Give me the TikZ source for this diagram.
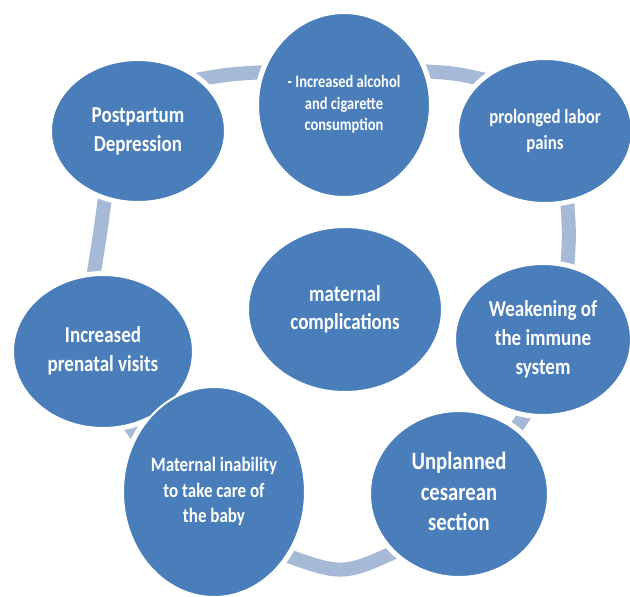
\documentclass[tikz,border=0pt]{standalone}
\usepackage{fontspec}
\setmainfont{Carlito}
\usetikzlibrary{shapes.geometric}
\definecolor{nodeblue}{RGB}{74,126,187}
\definecolor{ringblue}{RGB}{166,186,215}
\newcommand\ctext[3]{\scalebox{1}[1.2]{\fontsize{#1}{#2}\selectfont\bfseries\begin{tabular}{@{}c@{}}#3\end{tabular}}}
\begin{document}
\begin{tikzpicture}[x=1pt,y=-1pt,
  bubble/.style={ellipse, fill=nodeblue, draw=white, line width=2pt, inner sep=0pt, text=white},
  ring/.style={ringblue, line width=14pt},
  halo/.style={fill=white}
]
\clip (0,0) rectangle (630,597);
% ring pieces
\draw[ring] (195,80) .. controls (230,74) .. (268,72);
\draw[ring] (418,71) .. controls (455,73) .. (490,81);
\draw[ring] (567,198) .. controls (569.5,235) .. (567,272);
\draw[ring] (532,404) -- (508,440);
\draw[ring] (280,553) .. controls (343,576) .. (405,547);
\draw[ring] (118,408) -- (148,452);
\draw[ring] (106,190) .. controls (100,235) .. (93,278);
% halos
\foreach \x/\y/\a/\b in {344/105/86/92, 138/131/87/71, 545/131/87/72, 543/339.5/88/75.5, 459/494/89/83, 214/492/91/105, 103/351.5/90/76.5, 345/309.5/97/82.5}
  \fill[halo] (\x,\y) ellipse [x radius=\a pt+4pt, y radius=\b pt+4pt];
% bubbles
\node[bubble, minimum width=172pt, minimum height=184pt] (alc) at (344,105)
  {\ctext{14.5}{18}{- Increased alcohol\\and cigarette\\consumption}};
\node[bubble, minimum width=174pt, minimum height=142pt] (ppd) at (138,131)
  {\ctext{19}{24}{Postpartum\\Depression}};
\node[bubble, minimum width=174pt, minimum height=144pt] (pro) at (545,131)
  {\ctext{16.8}{22}{prolonged labor\\pains}};
\node[bubble, minimum width=176pt, minimum height=151pt] (imm) at (543,339.5)
  {\ctext{19}{24}{Weakening of\\the immune\\system}};
\node[bubble, minimum width=178pt, minimum height=166pt] (ces) at (459,494)
  {\ctext{20.7}{25.5}{Unplanned\\cesarean\\section}};
\node[bubble, minimum width=180pt, minimum height=153pt] (pre) at (103,351.5)
  {\ctext{19}{24}{Increased\\prenatal visits}};
\node[bubble, minimum width=182pt, minimum height=210pt] (inab) at (214,492)
  {\ctext{17}{21}{Maternal inability\\to take care of\\the baby}};
\node[bubble, minimum width=194pt, minimum height=165pt] (mc) at (345,309.5)
  {\ctext{19}{23.5}{maternal\\complications}};
\end{tikzpicture}
\end{document}
